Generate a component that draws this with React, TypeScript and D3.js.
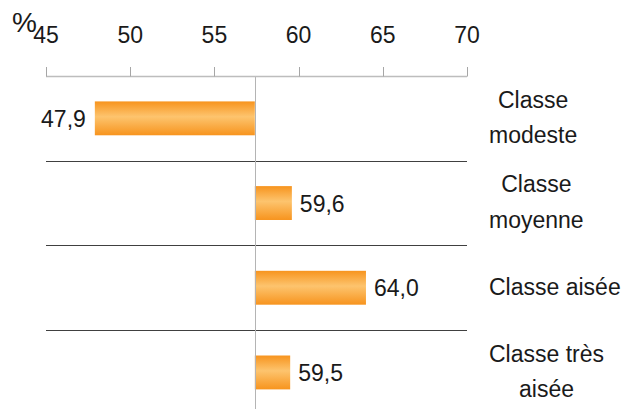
import React, { useEffect, useRef } from "react";
import * as d3 from "d3";

const categories: string[][] = [
  ["Classe", "modeste"],
  ["Classe", "moyenne"],
  ["Classe aisée"],
  ["Classe très", "aisée"],
];
const values: number[] = [47.9, 59.6, 64.0, 59.5];
const baselineValue = 57.4;
const tickValues: number[] = [45, 50, 55, 60, 65, 70];
const unitLabel = "%";

const W = 625;
const H = 409;
const FONT = "'Liberation Sans', Arial, sans-serif";
const FS = 23;

export default function App() {
  const ref = useRef<SVGSVGElement | null>(null);

  useEffect(() => {
    const svg = d3.select(ref.current);
    svg.selectAll("*").remove();

    const x = d3.scaleLinear().domain([45, 70]).range([46, 467]);
    const keys = categories.map((c) => c.join(" "));
    const y = d3
      .scaleBand<string>()
      .domain(keys)
      .range([76, 76 + 4 * 84.7])
      .paddingInner(0.6)
      .paddingOuter(0.3);
    const step = y.step();

    const defs = svg.append("defs");
    const grad = defs
      .append("linearGradient")
      .attr("id", "barGrad")
      .attr("x1", 0)
      .attr("y1", 0)
      .attr("x2", 0)
      .attr("y2", 1);
    grad.append("stop").attr("offset", "0%").attr("stop-color", "#f7941e");
    grad.append("stop").attr("offset", "45%").attr("stop-color", "#fdc46e");
    grad.append("stop").attr("offset", "100%").attr("stop-color", "#f7941e");

    const bandStart = (k: string) => (y(k) as number) - (step - y.bandwidth()) / 2;
    svg
      .append("g")
      .selectAll("line")
      .data(keys.slice(1))
      .join("line")
      .attr("x1", x(45))
      .attr("x2", x(70))
      .attr("y1", (k) => Math.round(bandStart(k)) + 0.5)
      .attr("y2", (k) => Math.round(bandStart(k)) + 0.5)
      .attr("stroke", "#404040")
      .attr("stroke-width", 1);

    svg
      .append("g")
      .selectAll("rect")
      .data(values)
      .join("rect")
      .attr("x", (v) => x(Math.min(v, baselineValue)))
      .attr("width", (v) => Math.abs(x(v) - x(baselineValue)))
      .attr("y", (_, i) => y(keys[i]) as number)
      .attr("height", y.bandwidth())
      .attr("fill", "url(#barGrad)");

    svg
      .append("line")
      .attr("x1", Math.round(x(baselineValue)) + 0.5)
      .attr("x2", Math.round(x(baselineValue)) + 0.5)
      .attr("y1", 76)
      .attr("y2", H)
      .attr("stroke", "#b4b4b4")
      .attr("stroke-width", 1);

    const axisY = 76.5;
    svg
      .append("line")
      .attr("x1", x(45))
      .attr("x2", x(70))
      .attr("y1", axisY)
      .attr("y2", axisY)
      .attr("stroke", "#bdbdbd")
      .attr("stroke-width", 1.5);
    svg
      .append("g")
      .selectAll("line")
      .data(tickValues)
      .join("line")
      .attr("x1", (d) => Math.round(x(d)) + 0.5)
      .attr("x2", (d) => Math.round(x(d)) + 0.5)
      .attr("y1", 67)
      .attr("y2", axisY)
      .attr("stroke", "#a6a6a6");
    svg
      .append("g")
      .selectAll("text")
      .data(tickValues)
      .join("text")
      .attr("x", (d) => x(d))
      .attr("y", 43)
      .attr("text-anchor", "middle")
      .attr("font-family", FONT)
      .attr("font-size", FS)
      .attr("fill", "#1a1a1a")
      .text((d) => String(d));
    svg
      .append("text")
      .attr("x", 12)
      .attr("y", 32)
      .attr("font-family", FONT)
      .attr("font-size", 28)
      .attr("fill", "#1a1a1a")
      .text(unitLabel);

    svg
      .append("g")
      .selectAll("text")
      .data(values)
      .join("text")
      .attr("x", (v) => (v < baselineValue ? x(v) - 9 : x(v) + 8))
      .attr("y", (_, i) => (y(keys[i]) as number) + y.bandwidth() / 2 + 8.5)
      .attr("text-anchor", (v) => (v < baselineValue ? "end" : "start"))
      .attr("font-family", FONT)
      .attr("font-size", FS)
      .attr("fill", "#1a1a1a")
      .text((v) => v.toFixed(1).replace(".", ","));

    const blockLeft = 489;
    const lineH = 35.5;
    categories.forEach((lines, i) => {
      const cy = (y(keys[i]) as number) + y.bandwidth() / 2;
      const off = lines.length > 1 ? 7 : 7.5;
      const g = svg.append("g");
      const texts = g
        .selectAll("text")
        .data(lines)
        .join("text")
        .attr("y", (_, j) => cy + off + (j - (lines.length - 1) / 2) * lineH)
        .attr("text-anchor", "middle")
        .attr("font-family", FONT)
        .attr("font-size", FS)
        .attr("fill", "#1a1a1a")
        .text((d) => d);
      let maxW = 0;
      texts.each(function () {
        maxW = Math.max(maxW, (this as SVGTextElement).getComputedTextLength());
      });
      texts.attr("x", blockLeft + maxW / 2);
    });
  }, []);

  return (
    <svg
      ref={ref}
      width={W}
      height={H}
      style={{ position: "absolute", left: 0, top: 0, background: "#fff" }}
    />
  );
}
